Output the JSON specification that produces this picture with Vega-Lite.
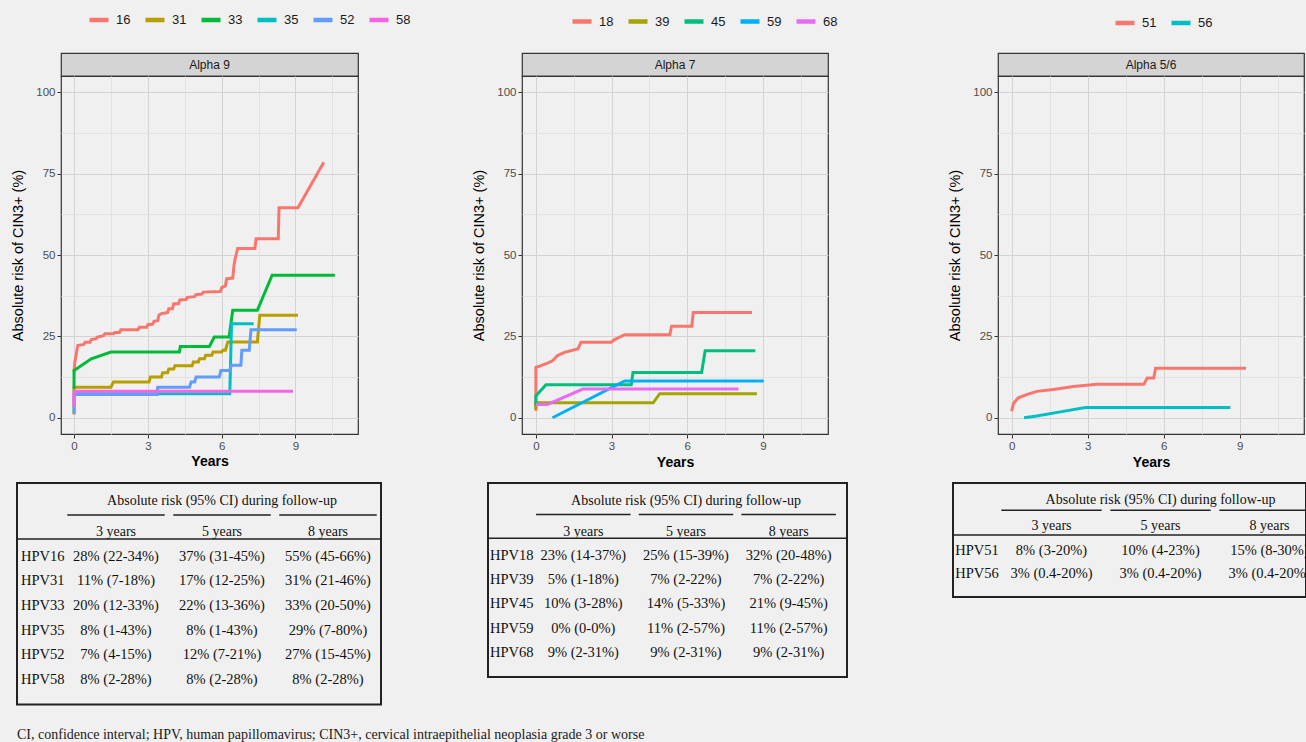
{
"$schema":"https://vega.github.io/schema/vega-lite/v6.json",
"background":"#f0f0f0",
"padding":0,
"autosize":{"type":"pad"},
"spacing":0,
"resolve":{"scale":{"color":"independent"},"legend":{"color":"independent"}},
"config":{"view":{"stroke":null},"font":"Liberation Sans",
 "legend":{"symbolType":"stroke","symbolStrokeWidth":4.5,"symbolSize":360,"labelFontSize":13,"labelColor":"#1a1a1a","labelFont":"Liberation Sans","columnPadding":5,"labelOffset":5,"padding":0}},
"datasets":{
"p1":[
{"hpv":"16","years":0,"risk":14},{"hpv":"16","years":0.03,"risk":17},{"hpv":"16","years":0.1,"risk":20},{"hpv":"16","years":0.15,"risk":22.2},{"hpv":"16","years":0.4,"risk":22.5},{"hpv":"16","years":0.45,"risk":23.2},{"hpv":"16","years":0.65,"risk":23.2},{"hpv":"16","years":0.7,"risk":24},{"hpv":"16","years":0.9,"risk":24.3},{"hpv":"16","years":0.95,"risk":24.8},{"hpv":"16","years":1.2,"risk":25.2},{"hpv":"16","years":1.25,"risk":25.8},{"hpv":"16","years":1.6,"risk":25.8},{"hpv":"16","years":1.65,"risk":26.2},{"hpv":"16","years":1.85,"risk":26.2},{"hpv":"16","years":1.9,"risk":27},{"hpv":"16","years":2.6,"risk":27},{"hpv":"16","years":2.65,"risk":27.8},{"hpv":"16","years":2.95,"risk":27.8},{"hpv":"16","years":3.0,"risk":28.6},{"hpv":"16","years":3.2,"risk":28.8},{"hpv":"16","years":3.25,"risk":29.6},{"hpv":"16","years":3.4,"risk":29.8},{"hpv":"16","years":3.45,"risk":31.5},{"hpv":"16","years":3.55,"risk":32},{"hpv":"16","years":3.8,"risk":32.3},{"hpv":"16","years":3.85,"risk":33.5},{"hpv":"16","years":4.0,"risk":33.5},{"hpv":"16","years":4.05,"risk":35},{"hpv":"16","years":4.25,"risk":35},{"hpv":"16","years":4.3,"risk":36.2},{"hpv":"16","years":4.55,"risk":36.3},{"hpv":"16","years":4.6,"risk":37},{"hpv":"16","years":4.9,"risk":37.2},{"hpv":"16","years":4.95,"risk":37.8},{"hpv":"16","years":5.2,"risk":38},{"hpv":"16","years":5.25,"risk":38.6},{"hpv":"16","years":5.95,"risk":38.8},{"hpv":"16","years":6.0,"risk":40},{"hpv":"16","years":6.15,"risk":40.5},{"hpv":"16","years":6.2,"risk":42.7},{"hpv":"16","years":6.45,"risk":42.9},{"hpv":"16","years":6.5,"risk":46.8},{"hpv":"16","years":6.55,"risk":49},{"hpv":"16","years":6.6,"risk":50.4},{"hpv":"16","years":6.65,"risk":52},{"hpv":"16","years":7.35,"risk":52},{"hpv":"16","years":7.4,"risk":55},{"hpv":"16","years":8.3,"risk":55},{"hpv":"16","years":8.33,"risk":64.5},{"hpv":"16","years":9.1,"risk":64.5},{"hpv":"16","years":10.15,"risk":78.5},
{"hpv":"31","years":0,"risk":1},{"hpv":"31","years":0,"risk":9.4},{"hpv":"31","years":1.5,"risk":9.4},{"hpv":"31","years":1.6,"risk":11},{"hpv":"31","years":3.05,"risk":11},{"hpv":"31","years":3.1,"risk":12.5},{"hpv":"31","years":3.55,"risk":12.5},{"hpv":"31","years":3.6,"risk":13.8},{"hpv":"31","years":3.8,"risk":13.8},{"hpv":"31","years":3.85,"risk":15},{"hpv":"31","years":4.05,"risk":15},{"hpv":"31","years":4.1,"risk":16},{"hpv":"31","years":4.8,"risk":16},{"hpv":"31","years":4.85,"risk":17.1},{"hpv":"31","years":5.05,"risk":17.1},{"hpv":"31","years":5.1,"risk":18.1},{"hpv":"31","years":5.3,"risk":18.1},{"hpv":"31","years":5.35,"risk":19.2},{"hpv":"31","years":5.6,"risk":19.2},{"hpv":"31","years":5.65,"risk":20.2},{"hpv":"31","years":6.0,"risk":20.2},{"hpv":"31","years":6.05,"risk":20.7},{"hpv":"31","years":6.15,"risk":20.7},{"hpv":"31","years":6.2,"risk":22},{"hpv":"31","years":6.25,"risk":23.3},{"hpv":"31","years":7.45,"risk":23.3},{"hpv":"31","years":7.55,"risk":31.5},{"hpv":"31","years":9.1,"risk":31.5},
{"hpv":"33","years":0,"risk":8.9},{"hpv":"33","years":0,"risk":14.5},{"hpv":"33","years":0.7,"risk":18.1},{"hpv":"33","years":1.5,"risk":20.2},{"hpv":"33","years":4.28,"risk":20.2},{"hpv":"33","years":4.32,"risk":21.9},{"hpv":"33","years":5.5,"risk":21.9},{"hpv":"33","years":5.7,"risk":24.8},{"hpv":"33","years":6.3,"risk":24.8},{"hpv":"33","years":6.45,"risk":33},{"hpv":"33","years":7.45,"risk":33},{"hpv":"33","years":8.05,"risk":43.8},{"hpv":"33","years":10.6,"risk":43.8},
{"hpv":"35","years":0,"risk":7.4},{"hpv":"35","years":6.33,"risk":7.4},{"hpv":"35","years":6.4,"risk":28.9},{"hpv":"35","years":7.3,"risk":28.9},
{"hpv":"52","years":0,"risk":1.2},{"hpv":"52","years":0,"risk":7.1},{"hpv":"52","years":3.38,"risk":7.1},{"hpv":"52","years":3.4,"risk":9.4},{"hpv":"52","years":4.69,"risk":9.4},{"hpv":"52","years":4.76,"risk":11},{"hpv":"52","years":4.9,"risk":11},{"hpv":"52","years":4.96,"risk":12.5},{"hpv":"52","years":5.9,"risk":12.5},{"hpv":"52","years":5.97,"risk":14.5},{"hpv":"52","years":6.31,"risk":14.5},{"hpv":"52","years":6.4,"risk":16.1},{"hpv":"52","years":6.78,"risk":16.1},{"hpv":"52","years":6.82,"risk":20.7},{"hpv":"52","years":7.12,"risk":20.7},{"hpv":"52","years":7.19,"risk":27},{"hpv":"52","years":9.05,"risk":27},
{"hpv":"58","years":0,"risk":3.5},{"hpv":"58","years":0,"risk":8.1},{"hpv":"58","years":8.9,"risk":8.1}
],
"p2":[
{"hpv":"18","years":0,"risk":2.1},{"hpv":"18","years":0,"risk":15.5},{"hpv":"18","years":0.2,"risk":16},{"hpv":"18","years":0.46,"risk":16.8},{"hpv":"18","years":0.66,"risk":17.5},{"hpv":"18","years":0.86,"risk":19.1},{"hpv":"18","years":1.13,"risk":20.1},{"hpv":"18","years":1.66,"risk":21.1},{"hpv":"18","years":1.79,"risk":23.2},{"hpv":"18","years":2.99,"risk":23.2},{"hpv":"18","years":3.12,"risk":24},{"hpv":"18","years":3.52,"risk":25.5},{"hpv":"18","years":5.31,"risk":25.5},{"hpv":"18","years":5.38,"risk":28.1},{"hpv":"18","years":6.18,"risk":28.1},{"hpv":"18","years":6.24,"risk":32.3},{"hpv":"18","years":8.57,"risk":32.3},
{"hpv":"39","years":0,"risk":2.6},{"hpv":"39","years":0,"risk":4.6},{"hpv":"39","years":4.65,"risk":4.6},{"hpv":"39","years":4.91,"risk":7.4},{"hpv":"39","years":8.76,"risk":7.4},
{"hpv":"45","years":0,"risk":3.6},{"hpv":"45","years":0,"risk":6.7},{"hpv":"45","years":0.4,"risk":10.1},{"hpv":"45","years":3.78,"risk":10.1},{"hpv":"45","years":3.85,"risk":13.9},{"hpv":"45","years":6.57,"risk":13.9},{"hpv":"45","years":6.71,"risk":20.6},{"hpv":"45","years":8.7,"risk":20.6},
{"hpv":"59","years":0.66,"risk":0},{"hpv":"59","years":3.52,"risk":11.3},{"hpv":"59","years":9.03,"risk":11.3},
{"hpv":"68","years":0,"risk":4.1},{"hpv":"68","years":0.46,"risk":4.1},{"hpv":"68","years":1.86,"risk":8.8},{"hpv":"68","years":8.03,"risk":8.8}
],
"p3":[
{"hpv":"51","years":0,"risk":2},{"hpv":"51","years":0.07,"risk":4.4},{"hpv":"51","years":0.26,"risk":6.1},{"hpv":"51","years":0.59,"risk":7.1},{"hpv":"51","years":0.99,"risk":8.1},{"hpv":"51","years":1.65,"risk":8.7},{"hpv":"51","years":2.44,"risk":9.6},{"hpv":"51","years":3.37,"risk":10.3},{"hpv":"51","years":5.22,"risk":10.3},{"hpv":"51","years":5.35,"risk":12.2},{"hpv":"51","years":5.61,"risk":12.2},{"hpv":"51","years":5.68,"risk":15.2},{"hpv":"51","years":9.25,"risk":15.2},
{"hpv":"56","years":0.49,"risk":0},{"hpv":"56","years":0.99,"risk":0.5},{"hpv":"56","years":1.92,"risk":1.8},{"hpv":"56","years":2.91,"risk":3.15},{"hpv":"56","years":8.63,"risk":3.15}
],
"t1":[
{"row":"HPV16","period":"label","value":"HPV16"},{"row":"HPV16","period":"3 years","value":"28% (22-34%)"},{"row":"HPV16","period":"5 years","value":"37% (31-45%)"},{"row":"HPV16","period":"8 years","value":"55% (45-66%)"},
{"row":"HPV31","period":"label","value":"HPV31"},{"row":"HPV31","period":"3 years","value":"11% (7-18%)"},{"row":"HPV31","period":"5 years","value":"17% (12-25%)"},{"row":"HPV31","period":"8 years","value":"31% (21-46%)"},
{"row":"HPV33","period":"label","value":"HPV33"},{"row":"HPV33","period":"3 years","value":"20% (12-33%)"},{"row":"HPV33","period":"5 years","value":"22% (13-36%)"},{"row":"HPV33","period":"8 years","value":"33% (20-50%)"},
{"row":"HPV35","period":"label","value":"HPV35"},{"row":"HPV35","period":"3 years","value":"8% (1-43%)"},{"row":"HPV35","period":"5 years","value":"8% (1-43%)"},{"row":"HPV35","period":"8 years","value":"29% (7-80%)"},
{"row":"HPV52","period":"label","value":"HPV52"},{"row":"HPV52","period":"3 years","value":"7% (4-15%)"},{"row":"HPV52","period":"5 years","value":"12% (7-21%)"},{"row":"HPV52","period":"8 years","value":"27% (15-45%)"},
{"row":"HPV58","period":"label","value":"HPV58"},{"row":"HPV58","period":"3 years","value":"8% (2-28%)"},{"row":"HPV58","period":"5 years","value":"8% (2-28%)"},{"row":"HPV58","period":"8 years","value":"8% (2-28%)"}
],
"t2":[
{"row":"HPV18","period":"label","value":"HPV18"},{"row":"HPV18","period":"3 years","value":"23% (14-37%)"},{"row":"HPV18","period":"5 years","value":"25% (15-39%)"},{"row":"HPV18","period":"8 years","value":"32% (20-48%)"},
{"row":"HPV39","period":"label","value":"HPV39"},{"row":"HPV39","period":"3 years","value":"5% (1-18%)"},{"row":"HPV39","period":"5 years","value":"7% (2-22%)"},{"row":"HPV39","period":"8 years","value":"7% (2-22%)"},
{"row":"HPV45","period":"label","value":"HPV45"},{"row":"HPV45","period":"3 years","value":"10% (3-28%)"},{"row":"HPV45","period":"5 years","value":"14% (5-33%)"},{"row":"HPV45","period":"8 years","value":"21% (9-45%)"},
{"row":"HPV59","period":"label","value":"HPV59"},{"row":"HPV59","period":"3 years","value":"0% (0-0%)"},{"row":"HPV59","period":"5 years","value":"11% (2-57%)"},{"row":"HPV59","period":"8 years","value":"11% (2-57%)"},
{"row":"HPV68","period":"label","value":"HPV68"},{"row":"HPV68","period":"3 years","value":"9% (2-31%)"},{"row":"HPV68","period":"5 years","value":"9% (2-31%)"},{"row":"HPV68","period":"8 years","value":"9% (2-31%)"}
],
"t3":[
{"row":"HPV51","period":"label","value":"HPV51"},{"row":"HPV51","period":"3 years","value":"8% (3-20%)"},{"row":"HPV51","period":"5 years","value":"10% (4-23%)"},{"row":"HPV51","period":"8 years","value":"15% (8-30%)"},
{"row":"HPV56","period":"label","value":"HPV56"},{"row":"HPV56","period":"3 years","value":"3% (0.4-20%)"},{"row":"HPV56","period":"5 years","value":"3% (0.4-20%)"},{"row":"HPV56","period":"8 years","value":"3% (0.4-20%)"}
],
"periods":[{"period":"3 years"},{"period":"5 years"},{"period":"8 years"}],
"blank":[{}]
},
"vconcat":[
{"columns":6,"spacing":0,"bounds":"flush",
 "resolve":{"scale":{"color":"independent"},"legend":{"color":"independent"}},
 "concat":[
{"width":61,"height":53,"view":{"fill":"#f0f0f0"},"data":{"name":"blank"},"mark":{"type":"point","opacity":0},"encoding":{}},
{"width":297,"height":53,"view":{"fill":"#f0f0f0"},"data":{"name":"blank"},"mark":{"type":"point","opacity":0},"encoding":{}},
{"width":163.7,"height":53,"view":{"fill":"#f0f0f0"},"data":{"name":"blank"},"mark":{"type":"point","opacity":0},"encoding":{}},
{"width":306,"height":53,"view":{"fill":"#f0f0f0"},"data":{"name":"blank"},"mark":{"type":"point","opacity":0},"encoding":{}},
{"width":169.6,"height":53,"view":{"fill":"#f0f0f0"},"data":{"name":"blank"},"mark":{"type":"point","opacity":0},"encoding":{}},
{"width":306,"height":53,"view":{"fill":"#f0f0f0"},"data":{"name":"blank"},"mark":{"type":"point","opacity":0},"encoding":{}},

{"width":61,"height":23,"data":{"name":"blank"},"mark":{"type":"point","opacity":0},"encoding":{}},
{"width":297,"height":23,"view":{"fill":"#d4d4d4","stroke":"#333333","strokeWidth":1.2},"data":{"values":[{"label":"Alpha 9"}]},"mark":{"type":"text","fontSize":12,"color":"#1a1a1a","font":"Liberation Sans"},"encoding":{"text":{"field":"label"}}},
{"width":163.7,"height":23,"data":{"name":"blank"},"mark":{"type":"point","opacity":0},"encoding":{}},
{"width":306,"height":23,"view":{"fill":"#d4d4d4","stroke":"#333333","strokeWidth":1.2},"data":{"values":[{"label":"Alpha 7"}]},"mark":{"type":"text","fontSize":12,"color":"#1a1a1a","font":"Liberation Sans"},"encoding":{"text":{"field":"label"}}},
{"width":169.6,"height":23,"data":{"name":"blank"},"mark":{"type":"point","opacity":0},"encoding":{}},
{"width":306,"height":23,"view":{"fill":"#d4d4d4","stroke":"#333333","strokeWidth":1.2},"data":{"values":[{"label":"Alpha 5/6"}]},"mark":{"type":"text","fontSize":12,"color":"#1a1a1a","font":"Liberation Sans"},"encoding":{"text":{"field":"label"}}},

{"width":61,"height":358,"data":{"name":"blank"},"mark":{"type":"point","opacity":0},"encoding":{}},
{"width":297,"height":358,"view":{"stroke":"#333333","strokeWidth":1.2,"fill":"#f0f0f0"},"data":{"name":"p1"},"mark":{"type":"line","strokeWidth":3},
 "encoding":{
  "x":{"field":"years","type":"quantitative","scale":{"domain":[-0.53,11.54],"nice":false,"zero":false},
   "axis":{"title":"Years","values":[0,1.5,3,4.5,6,7.5,9,10.5],"labelExpr":"datum.value % 3 === 0 ? datum.label : ''","domain":false,"tickColor":"#333333","tickSize":4,"tickOpacity":{"condition":{"test":"datum.value % 3 !== 0","value":0},"value":1},"gridColor":{"condition":{"test":"datum.value % 3 !== 0","value":"#e2e2e2"},"value":"#d3d3d3"},"labelFontSize":11.5,"labelColor":"#4d4d4d","labelPadding":2,"titleFontSize":14,"titleFontWeight":"bold","titleColor":"#000000","titlePadding":3,"labelFlush":false,"labelOverlap":false}},
  "y":{"field":"risk","type":"quantitative","scale":{"domain":[-5,105],"nice":false,"zero":false},
   "axis":{"title":"Absolute risk of CIN3+ (%)","values":[0,12.5,25,37.5,50,62.5,75,87.5,100],"labelExpr":"datum.value % 25 === 0 ? datum.label : ''","domain":false,"tickColor":"#333333","tickSize":4,"tickOpacity":{"condition":{"test":"datum.value % 25 !== 0","value":0},"value":1},"gridColor":{"condition":{"test":"datum.value % 25 !== 0","value":"#e2e2e2"},"value":"#d3d3d3"},"labelFontSize":11.5,"labelColor":"#4d4d4d","labelPadding":2,"titleFontSize":14.5,"titleFontWeight":"normal","titleColor":"#000000","titlePadding":10,"labelOverlap":false}},
  "color":{"field":"hpv","type":"nominal","scale":{"domain":["16","31","33","35","52","58"],"range":["#F8766D","#B79F00","#00BA38","#00BFC4","#619CFF","#F564E3"]},
   "legend":{"orient":"none","legendX":26,"legendY":-68,"direction":"horizontal","title":null}},
  "order":{"value":null}}},
{"width":163.7,"height":358,"data":{"name":"blank"},"mark":{"type":"point","opacity":0},"encoding":{}},
{"width":306,"height":358,"view":{"stroke":"#333333","strokeWidth":1.2,"fill":"#f0f0f0"},"data":{"name":"p2"},"mark":{"type":"line","strokeWidth":3},
 "encoding":{
  "x":{"field":"years","type":"quantitative","scale":{"domain":[-0.55,11.58],"nice":false,"zero":false},
   "axis":{"title":"Years","values":[0,1.5,3,4.5,6,7.5,9,10.5],"labelExpr":"datum.value % 3 === 0 ? datum.label : ''","domain":false,"tickColor":"#333333","tickSize":4,"tickOpacity":{"condition":{"test":"datum.value % 3 !== 0","value":0},"value":1},"gridColor":{"condition":{"test":"datum.value % 3 !== 0","value":"#e2e2e2"},"value":"#d3d3d3"},"labelFontSize":11.5,"labelColor":"#4d4d4d","labelPadding":2,"titleFontSize":14,"titleFontWeight":"bold","titleColor":"#000000","titlePadding":4,"labelFlush":false,"labelOverlap":false}},
  "y":{"field":"risk","type":"quantitative","scale":{"domain":[-5,105],"nice":false,"zero":false},
   "axis":{"title":"Absolute risk of CIN3+ (%)","values":[0,12.5,25,37.5,50,62.5,75,87.5,100],"labelExpr":"datum.value % 25 === 0 ? datum.label : ''","domain":false,"tickColor":"#333333","tickSize":4,"tickOpacity":{"condition":{"test":"datum.value % 25 !== 0","value":0},"value":1},"gridColor":{"condition":{"test":"datum.value % 25 !== 0","value":"#e2e2e2"},"value":"#d3d3d3"},"labelFontSize":11.5,"labelColor":"#4d4d4d","labelPadding":2,"titleFontSize":14.5,"titleFontWeight":"normal","titleColor":"#000000","titlePadding":10,"labelOverlap":false}},
  "color":{"field":"hpv","type":"nominal","scale":{"domain":["18","39","45","59","68"],"range":["#F8766D","#A3A500","#00BF7D","#00B0F6","#E76BF3"]},
   "legend":{"orient":"none","legendX":48,"legendY":-66.5,"direction":"horizontal","title":null}},
  "order":{"value":null}}},
{"width":169.6,"height":358,"data":{"name":"blank"},"mark":{"type":"point","opacity":0},"encoding":{}},
{"width":306,"height":358,"view":{"stroke":"#333333","strokeWidth":1.2,"fill":"#f0f0f0"},"data":{"name":"p3"},"mark":{"type":"line","strokeWidth":3},
 "encoding":{
  "x":{"field":"years","type":"quantitative","scale":{"domain":[-0.54,11.54],"nice":false,"zero":false},
   "axis":{"title":"Years","values":[0,1.5,3,4.5,6,7.5,9,10.5],"labelExpr":"datum.value % 3 === 0 ? datum.label : ''","domain":false,"tickColor":"#333333","tickSize":4,"tickOpacity":{"condition":{"test":"datum.value % 3 !== 0","value":0},"value":1},"gridColor":{"condition":{"test":"datum.value % 3 !== 0","value":"#e2e2e2"},"value":"#d3d3d3"},"labelFontSize":11.5,"labelColor":"#4d4d4d","labelPadding":2,"titleFontSize":14,"titleFontWeight":"bold","titleColor":"#000000","titlePadding":4,"labelFlush":false,"labelOverlap":false}},
  "y":{"field":"risk","type":"quantitative","scale":{"domain":[-5,105],"nice":false,"zero":false},
   "axis":{"title":"Absolute risk of CIN3+ (%)","values":[0,12.5,25,37.5,50,62.5,75,87.5,100],"labelExpr":"datum.value % 25 === 0 ? datum.label : ''","domain":false,"tickColor":"#333333","tickSize":4,"tickOpacity":{"condition":{"test":"datum.value % 25 !== 0","value":0},"value":1},"gridColor":{"condition":{"test":"datum.value % 25 !== 0","value":"#e2e2e2"},"value":"#d3d3d3"},"labelFontSize":11.5,"labelColor":"#4d4d4d","labelPadding":2,"titleFontSize":14.5,"titleFontWeight":"normal","titleColor":"#000000","titlePadding":10,"labelOverlap":false}},
  "color":{"field":"hpv","type":"nominal","scale":{"domain":["51","56"],"range":["#F8766D","#00BFC4"]},
   "legend":{"orient":"none","legendX":115,"legendY":-65,"direction":"horizontal","title":null}},
  "order":{"value":null}}},

{"width":61,"height":46,"view":{"fill":"#f0f0f0","fillOpacity":0},"data":{"name":"blank"},"mark":{"type":"point","opacity":0},"encoding":{}},
{"width":297,"height":46,"view":{"fill":"#f0f0f0","fillOpacity":0},"data":{"name":"blank"},"mark":{"type":"point","opacity":0},"encoding":{}},
{"width":163.7,"height":46,"view":{"fill":"#f0f0f0","fillOpacity":0},"data":{"name":"blank"},"mark":{"type":"point","opacity":0},"encoding":{}},
{"width":306,"height":46,"view":{"fill":"#f0f0f0","fillOpacity":0},"data":{"name":"blank"},"mark":{"type":"point","opacity":0},"encoding":{}},
{"width":169.6,"height":46,"view":{"fill":"#f0f0f0","fillOpacity":0},"data":{"name":"blank"},"mark":{"type":"point","opacity":0},"encoding":{}},
{"width":306,"height":46,"view":{"fill":"#f0f0f0","fillOpacity":0},"data":{"name":"blank"},"mark":{"type":"point","opacity":0},"encoding":{}}
 ]},
{"columns":6,"spacing":0,"bounds":"flush",
 "concat":[
{"width":17,"height":1,"view":{"fill":"#f0f0f0","fillOpacity":0},"data":{"name":"blank"},"mark":{"type":"point","opacity":0},"encoding":{}},
{"width":364,"height":221.4,"view":{"stroke":"#222222","strokeWidth":2,"fill":null},
 "title":{"text":"CI, confidence interval; HPV, human papillomavirus; CIN3+, cervical intraepithelial neoplasia grade 3 or worse","orient":"bottom","anchor":"start","frame":"group","offset":35,"baseline":"alphabetic","font":"Liberation Serif","fontSize":14,"fontWeight":"normal","color":"#1a1a1a"},
 "layer":[
  {"data":{"name":"t1"},"transform":[{"filter":"datum.period !== 'label'"}],"mark":{"type":"text","font":"Liberation Serif","fontSize":14.5,"color":"#111111"},
   "encoding":{"x":{"field":"period","type":"nominal","scale":{"type":"band","domain":["label","3 years","5 years","8 years"],"range":[-60,364],"paddingInner":0.08,"paddingOuter":0.04},"axis":null},
    "y":{"field":"row","type":"nominal","scale":{"type":"band","domain":["title","sub","HPV16","HPV31","HPV33","HPV35","HPV52","HPV58"],"paddingInner":0,"paddingOuter":0.5},"axis":null},
    "text":{"field":"value"}}},
  {"data":{"name":"t1"},"transform":[{"filter":"datum.period === 'label'"}],"mark":{"type":"text","align":"left","font":"Liberation Serif","fontSize":14.5,"color":"#111111"},
   "encoding":{"x":{"field":"period","type":"nominal","bandPosition":0.613,"scale":{"type":"band","domain":["label","3 years","5 years","8 years"],"range":[-60,364],"paddingInner":0.08,"paddingOuter":0.04},"axis":null},
    "y":{"field":"row","type":"nominal","scale":{"type":"band","domain":["title","sub","HPV16","HPV31","HPV33","HPV35","HPV52","HPV58"],"paddingInner":0,"paddingOuter":0.5},"axis":null},
    "text":{"field":"value"}}},
  {"data":{"name":"periods"},"transform":[{"calculate":"'sub'","as":"row"}],"mark":{"type":"text","font":"Liberation Serif","fontSize":14,"color":"#111111"},
   "encoding":{"x":{"field":"period","type":"nominal","scale":{"type":"band","domain":["label","3 years","5 years","8 years"],"range":[-60,364],"paddingInner":0.08,"paddingOuter":0.04},"axis":null},
    "y":{"field":"row","type":"nominal","scale":{"type":"band","domain":["title","sub","HPV16","HPV31","HPV33","HPV35","HPV52","HPV58"],"paddingInner":0,"paddingOuter":0.5},"axis":null},
    "text":{"field":"period"}}},
  {"data":{"values":[{"row":"title","period":"5 years","label":"Absolute risk (95% CI) during follow-up"}]},"mark":{"type":"text","font":"Liberation Serif","fontSize":14,"color":"#111111"},
   "encoding":{"x":{"field":"period","type":"nominal","scale":{"type":"band","domain":["label","3 years","5 years","8 years"],"range":[-60,364],"paddingInner":0.08,"paddingOuter":0.04},"axis":null},
    "y":{"field":"row","type":"nominal","bandPosition":0.25,"scale":{"type":"band","domain":["title","sub","HPV16","HPV31","HPV33","HPV35","HPV52","HPV58"],"paddingInner":0,"paddingOuter":0.5},"axis":null},
    "text":{"field":"label"}}},
  {"data":{"name":"periods"},"transform":[{"calculate":"'title'","as":"row"}],"mark":{"type":"rule","strokeWidth":1.5,"color":"#222222"},
   "encoding":{"x":{"field":"period","type":"nominal","bandPosition":0,"scale":{"type":"band","domain":["label","3 years","5 years","8 years"],"range":[-60,364],"paddingInner":0.08,"paddingOuter":0.04},"axis":null},
    "x2":{"field":"period","bandPosition":1},
    "y":{"field":"row","type":"nominal","bandPosition":0.8,"scale":{"type":"band","domain":["title","sub","HPV16","HPV31","HPV33","HPV35","HPV52","HPV58"],"paddingInner":0,"paddingOuter":0.5},"axis":null}}},
  {"data":{"values":[{"row":"sub"}]},"mark":{"type":"rule","strokeWidth":1.5,"color":"#222222"},
   "encoding":{"y":{"field":"row","type":"nominal","bandPosition":0.78,"scale":{"type":"band","domain":["title","sub","HPV16","HPV31","HPV33","HPV35","HPV52","HPV58"],"paddingInner":0,"paddingOuter":0.5},"axis":null}}}
 ]},
{"width":106.3,"height":1,"view":{"fill":"#f0f0f0","fillOpacity":0},"data":{"name":"blank"},"mark":{"type":"point","opacity":0},"encoding":{}},
{"width":359,"height":194,"view":{"stroke":"#222222","strokeWidth":2,"fill":null},
 "layer":[
  {"data":{"name":"t2"},"transform":[{"filter":"datum.period !== 'label'"}],"mark":{"type":"text","font":"Liberation Serif","fontSize":14.5,"color":"#111111"},
   "encoding":{"x":{"field":"period","type":"nominal","scale":{"type":"band","domain":["label","3 years","5 years","8 years"],"range":[-58.7,352],"paddingInner":0.08,"paddingOuter":0.04},"axis":null},
    "y":{"field":"row","type":"nominal","scale":{"type":"band","domain":["title","sub","HPV18","HPV39","HPV45","HPV59","HPV68"],"paddingInner":0,"paddingOuter":0.5},"axis":null},
    "text":{"field":"value"}}},
  {"data":{"name":"t2"},"transform":[{"filter":"datum.period === 'label'"}],"mark":{"type":"text","align":"left","font":"Liberation Serif","fontSize":14.5,"color":"#111111"},
   "encoding":{"x":{"field":"period","type":"nominal","bandPosition":0.6,"scale":{"type":"band","domain":["label","3 years","5 years","8 years"],"range":[-58.7,352],"paddingInner":0.08,"paddingOuter":0.04},"axis":null},
    "y":{"field":"row","type":"nominal","scale":{"type":"band","domain":["title","sub","HPV18","HPV39","HPV45","HPV59","HPV68"],"paddingInner":0,"paddingOuter":0.5},"axis":null},
    "text":{"field":"value"}}},
  {"data":{"name":"periods"},"transform":[{"calculate":"'sub'","as":"row"}],"mark":{"type":"text","font":"Liberation Serif","fontSize":14,"color":"#111111"},
   "encoding":{"x":{"field":"period","type":"nominal","scale":{"type":"band","domain":["label","3 years","5 years","8 years"],"range":[-58.7,352],"paddingInner":0.08,"paddingOuter":0.04},"axis":null},
    "y":{"field":"row","type":"nominal","scale":{"type":"band","domain":["title","sub","HPV18","HPV39","HPV45","HPV59","HPV68"],"paddingInner":0,"paddingOuter":0.5},"axis":null},
    "text":{"field":"period"}}},
  {"data":{"values":[{"row":"title","period":"5 years","label":"Absolute risk (95% CI) during follow-up"}]},"mark":{"type":"text","font":"Liberation Serif","fontSize":14,"color":"#111111"},
   "encoding":{"x":{"field":"period","type":"nominal","scale":{"type":"band","domain":["label","3 years","5 years","8 years"],"range":[-58.7,352],"paddingInner":0.08,"paddingOuter":0.04},"axis":null},
    "y":{"field":"row","type":"nominal","bandPosition":0.25,"scale":{"type":"band","domain":["title","sub","HPV18","HPV39","HPV45","HPV59","HPV68"],"paddingInner":0,"paddingOuter":0.5},"axis":null},
    "text":{"field":"label"}}},
  {"data":{"name":"periods"},"transform":[{"calculate":"'title'","as":"row"}],"mark":{"type":"rule","strokeWidth":1.5,"color":"#222222"},
   "encoding":{"x":{"field":"period","type":"nominal","bandPosition":0,"scale":{"type":"band","domain":["label","3 years","5 years","8 years"],"range":[-58.7,352],"paddingInner":0.08,"paddingOuter":0.04},"axis":null},
    "x2":{"field":"period","bandPosition":1},
    "y":{"field":"row","type":"nominal","bandPosition":0.8,"scale":{"type":"band","domain":["title","sub","HPV18","HPV39","HPV45","HPV59","HPV68"],"paddingInner":0,"paddingOuter":0.5},"axis":null}}},
  {"data":{"values":[{"row":"sub"}]},"mark":{"type":"rule","strokeWidth":1.5,"color":"#222222"},
   "encoding":{"y":{"field":"row","type":"nominal","bandPosition":0.78,"scale":{"type":"band","domain":["title","sub","HPV18","HPV39","HPV45","HPV59","HPV68"],"paddingInner":0,"paddingOuter":0.5},"axis":null}}}
 ]},
{"width":105.4,"height":1,"view":{"fill":"#f0f0f0","fillOpacity":0},"data":{"name":"blank"},"mark":{"type":"point","opacity":0},"encoding":{}},
{"width":353,"height":114,"view":{"stroke":"#222222","strokeWidth":2,"fill":null},
 "layer":[
  {"data":{"name":"t3"},"transform":[{"filter":"datum.period !== 'label'"}],"mark":{"type":"text","font":"Liberation Serif","fontSize":14.5,"color":"#111111","clip":true},
   "encoding":{"x":{"field":"period","type":"nominal","scale":{"type":"band","domain":["label","3 years","5 years","8 years"],"range":[-65,371],"paddingInner":0.08,"paddingOuter":0.04},"axis":null},
    "y":{"field":"row","type":"nominal","scale":{"type":"band","domain":["title","sub","HPV51","HPV56"],"paddingInner":0,"paddingOuter":0.5},"axis":null},
    "text":{"field":"value"}}},
  {"data":{"name":"t3"},"transform":[{"filter":"datum.period === 'label'"}],"mark":{"type":"text","align":"left","font":"Liberation Serif","fontSize":14.5,"color":"#111111"},
   "encoding":{"x":{"field":"period","type":"nominal","bandPosition":0.627,"scale":{"type":"band","domain":["label","3 years","5 years","8 years"],"range":[-65,371],"paddingInner":0.08,"paddingOuter":0.04},"axis":null},
    "y":{"field":"row","type":"nominal","scale":{"type":"band","domain":["title","sub","HPV51","HPV56"],"paddingInner":0,"paddingOuter":0.5},"axis":null},
    "text":{"field":"value"}}},
  {"data":{"name":"periods"},"transform":[{"calculate":"'sub'","as":"row"}],"mark":{"type":"text","font":"Liberation Serif","fontSize":14,"color":"#111111","clip":true},
   "encoding":{"x":{"field":"period","type":"nominal","scale":{"type":"band","domain":["label","3 years","5 years","8 years"],"range":[-65,371],"paddingInner":0.08,"paddingOuter":0.04},"axis":null},
    "y":{"field":"row","type":"nominal","bandPosition":0.4,"scale":{"type":"band","domain":["title","sub","HPV51","HPV56"],"paddingInner":0,"paddingOuter":0.5},"axis":null},
    "text":{"field":"period"}}},
  {"data":{"values":[{"row":"title","period":"5 years","label":"Absolute risk (95% CI) during follow-up"}]},"mark":{"type":"text","font":"Liberation Serif","fontSize":14,"color":"#111111"},
   "encoding":{"x":{"field":"period","type":"nominal","scale":{"type":"band","domain":["label","3 years","5 years","8 years"],"range":[-65,371],"paddingInner":0.08,"paddingOuter":0.04},"axis":null},
    "y":{"field":"row","type":"nominal","bandPosition":0.25,"scale":{"type":"band","domain":["title","sub","HPV51","HPV56"],"paddingInner":0,"paddingOuter":0.5},"axis":null},
    "text":{"field":"label"}}},
  {"data":{"name":"periods"},"transform":[{"calculate":"'title'","as":"row"}],"mark":{"type":"rule","strokeWidth":1.5,"color":"#222222","clip":true},
   "encoding":{"x":{"field":"period","type":"nominal","bandPosition":0,"scale":{"type":"band","domain":["label","3 years","5 years","8 years"],"range":[-65,371],"paddingInner":0.08,"paddingOuter":0.04},"axis":null},
    "x2":{"field":"period","bandPosition":1},
    "y":{"field":"row","type":"nominal","bandPosition":0.7,"scale":{"type":"band","domain":["title","sub","HPV51","HPV56"],"paddingInner":0,"paddingOuter":0.5},"axis":null}}},
  {"data":{"values":[{"row":"sub"}]},"mark":{"type":"rule","strokeWidth":1.5,"color":"#222222"},
   "encoding":{"y":{"field":"row","type":"nominal","bandPosition":0.78,"scale":{"type":"band","domain":["title","sub","HPV51","HPV56"],"paddingInner":0,"paddingOuter":0.5},"axis":null}}}
 ]}
 ]}
]
}
